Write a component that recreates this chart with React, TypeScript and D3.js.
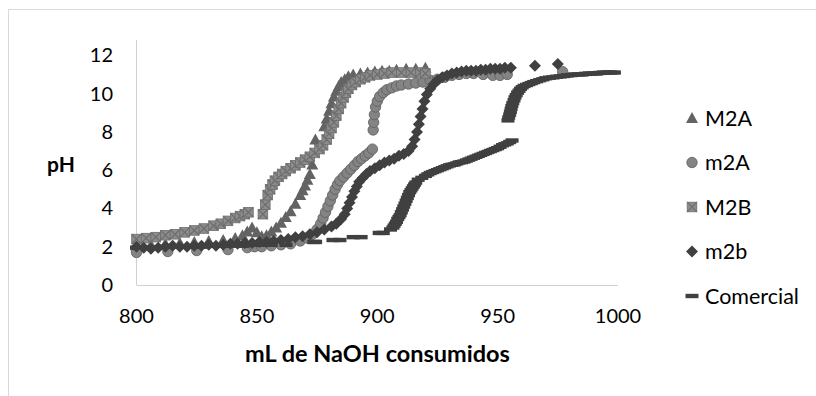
import { useEffect, useRef } from 'react'
import * as d3 from 'd3'

// [mL NaOH, pH]
const m2A_upper: [number, number][] = [
  [800, 2.05], [806, 2.1], [812, 2.15], [818, 2.2], [824, 2.25], [830, 2.3], [836, 2.35], [841, 2.45],
  [844, 2.6], [846, 2.8], [848, 3.0], [850, 2.75], [852, 2.55], [854, 2.6], [856, 2.8], [858, 3.0],
  [860, 3.25], [862, 3.55], [864, 3.85], [866, 4.25], [868, 4.7], [869, 4.95], [870, 5.2], [871, 5.5],
  [872, 5.8], [873, 6.3], [874.3, 7.6], [878, 8.3], [879, 8.7], [880, 9.1], [881, 9.5], [882, 9.85],
  [883, 10.15], [884, 10.4], [885, 10.6], [886.5, 10.75], [888, 10.9], [890, 11.0], [893, 11.05],
  [896, 11.1], [899, 11.15], [902, 11.2], [905, 11.2], [908, 11.25], [912, 11.3], [916, 11.3], [920, 11.35],
]

const m2a_lower: [number, number][] = [
  [800, 1.7], [813, 1.75], [825, 1.8], [838, 1.85], [846, 1.95], [849, 2.0], [852, 2.0], [856, 2.05],
  [860, 2.1], [864, 2.15], [868, 2.3], [871, 2.45], [873, 2.65], [875, 2.9], [876.5, 3.2], [877.5, 3.5],
  [878.5, 3.8], [879.5, 4.1], [880.5, 4.4], [881.5, 4.7], [882.5, 5.0], [883.5, 5.25], [884.5, 5.45],
  [886, 5.65], [887.5, 5.85], [889, 6.05], [890.5, 6.25], [892, 6.45], [893.5, 6.6], [895, 6.75],
  [896.5, 6.9], [898, 7.1], [898.3, 8.1], [898.5, 8.5], [898.8, 8.9], [899.3, 9.3], [900, 9.6],
  [901, 9.85], [902.5, 10.05], [904, 10.2], [906, 10.3], [908, 10.4], [910, 10.45], [913, 10.5],
  [916, 10.55], [919, 10.6], [922, 10.7], [925, 10.75], [928, 10.85], [931, 10.95], [934, 11.0],
  [937, 11.05], [940, 11.05], [944, 11.0], [948, 10.95], [951, 10.95], [954, 11.0], [977, 11.15],
]

const m2B_upper: [number, number][] = [
  [800, 2.4], [804, 2.45], [808, 2.5], [812, 2.6], [816, 2.65], [820, 2.75], [824, 2.85], [828, 2.95],
  [832, 3.1], [835, 3.2], [838, 3.35], [841, 3.5], [843, 3.6], [845, 3.7], [846.5, 3.8], [852.5, 3.7],
  [853.5, 4.2], [854.5, 4.7], [855.5, 5.0], [856.5, 5.25], [857.5, 5.45], [859, 5.65], [860.5, 5.8],
  [862, 5.95], [864, 6.1], [866, 6.25], [868, 6.4], [870, 6.55], [872, 6.7], [874, 6.9], [876, 7.1],
  [877.5, 7.3], [879, 7.6], [880, 7.9], [881, 8.2], [882, 8.5], [883, 8.85], [884, 9.2], [885, 9.5],
  [886, 9.8], [887, 10.05], [888, 10.25], [889.5, 10.45], [891, 10.6], [893, 10.75], [895, 10.85],
  [897, 10.95], [900, 11.0], [903, 11.05], [906, 11.1], [910, 11.1], [914, 11.1], [918, 11.1], [920, 11.05],
]

const m2b_lower: [number, number][] = [
  [800, 2.0], [803, 1.95], [806, 1.9], [809, 1.95], [812, 2.0], [815, 2.05], [818, 2.0], [821, 2.0],
  [824, 2.05], [827, 2.05], [830, 2.1], [833, 2.05], [836, 2.1], [839, 2.15], [842, 2.15], [845, 2.2],
  [848, 2.2], [851, 2.25], [854, 2.25], [857, 2.3], [860, 2.35], [863, 2.4], [866, 2.5], [869, 2.55],
  [872, 2.65], [875, 2.75], [878, 2.9], [881, 3.05], [883, 3.2], [885, 3.45], [886.5, 3.7], [887.5, 4.0],
  [888.5, 4.3], [889.5, 4.6], [890.5, 4.9], [891.5, 5.15], [892.5, 5.4], [894, 5.6], [895.5, 5.8],
  [897, 5.95], [899, 6.1], [901, 6.25], [903, 6.4], [905, 6.5], [907, 6.6], [909, 6.75], [911, 6.85],
  [913, 7.0], [914.5, 7.25], [915.5, 7.6], [916.5, 8.0], [917.3, 8.4], [918, 8.8], [918.8, 9.2],
  [919.6, 9.6], [920.6, 9.95], [922, 10.25], [923.5, 10.5], [925, 10.7], [927, 10.85], [929, 10.95],
  [931, 11.05], [933, 11.1], [935, 11.15], [937, 11.2], [939, 11.2], [941, 11.2], [943, 11.25],
  [945, 11.25], [947, 11.3], [949, 11.3], [951, 11.3], [953, 11.35], [955.5, 11.35], [965.5, 11.45], [975, 11.55],
]

const comercial: [number, number][] = [
  [800, 1.95], [804, 1.95], [808, 1.95], [812, 2.0], [816, 2.0], [820, 2.0], [824, 2.0], [828, 2.0],
  [832, 2.05], [836, 2.05], [840, 2.05], [844, 2.05], [848, 2.1], [852, 2.1], [856, 2.1],
  [862.1, 2.1], [873.6, 2.25], [874.4, 2.25], [881.6, 2.35], [884.5, 2.35], [890, 2.5], [893.3, 2.5],
  [900.8, 2.72], [902.5, 2.72], [905.5, 2.9], [906.5, 3.0], [907, 3.1], [907.5, 3.2], [908, 3.3],
  [908.5, 3.45], [909, 3.55], [909.5, 3.65], [910, 3.8], [910.5, 3.95], [911, 4.1], [911.5, 4.25],
  [912, 4.4], [912.5, 4.55], [913, 4.7], [913.5, 4.85], [914, 4.95], [914.5, 5.05], [915, 5.15],
  [915.5, 5.25], [916, 5.35], [917, 5.5], [918.5, 5.6], [920, 5.7], [921, 5.78], [922, 5.85], [923, 5.9],
  [924, 5.95], [925, 6.0], [926, 6.05], [927, 6.1], [928, 6.15], [929, 6.2], [930, 6.25], [931, 6.28],
  [932, 6.3], [933, 6.35], [934, 6.4], [935, 6.42], [936, 6.45], [937, 6.5], [938, 6.55], [939, 6.6],
  [940, 6.65], [941, 6.7], [942, 6.75], [943, 6.8], [944, 6.85], [945, 6.9], [946, 6.95], [947, 7.0],
  [948, 7.05], [949, 7.1], [950, 7.15], [951, 7.22], [952, 7.3], [953, 7.35], [954, 7.4], [955, 7.47],
  [956, 7.55], [954.3, 8.6], [954.6, 8.75], [955, 8.9], [955.3, 9.05], [955.6, 9.2], [955.9, 9.35],
  [956.3, 9.5], [956.8, 9.65], [957.2, 9.8], [957.7, 9.92], [958.3, 10.05], [958.9, 10.15],
  [959.5, 10.25], [960.2, 10.33], [961, 10.4], [962, 10.45], [963, 10.5], [964, 10.55], [965, 10.6],
  [966.2, 10.65], [967.5, 10.7], [968.8, 10.75], [970, 10.8], [971.5, 10.83], [973, 10.85],
  [974.5, 10.88], [976, 10.9], [977.5, 10.92], [979, 10.95], [980.5, 10.97], [982, 11.0], [983.5, 11.0],
  [985, 11.0], [986.5, 11.03], [988, 11.05], [989.5, 11.05], [991, 11.05], [992.5, 11.08], [994, 11.1],
  [995.5, 11.1], [997, 11.1], [998.5, 11.1],
]

const seriesNames = ['M2A', 'm2A', 'M2B', 'm2b', 'Comercial']
const seriesData = [m2A_upper, m2a_lower, m2B_upper, m2b_lower, comercial]
const xTicks = [800, 850, 900, 950, 1000]
const yTicks = [0, 2, 4, 6, 8, 10, 12]

const FONT = 'Lato, "Open Sans", sans-serif'

// marker drawing, one per series (Excel style)
function drawMarker(sel: d3.Selection<SVGGElement, unknown, null, undefined>, kind: number, cx: number, cy: number) {
  if (kind === 0) {
    sel.append('path')
      .attr('d', `M${cx},${cy - 6} L${cx + 6},${cy + 5} L${cx - 6},${cy + 5} Z`)
      .attr('fill', '#636363')
  } else if (kind === 1) {
    sel.append('circle').attr('cx', cx).attr('cy', cy).attr('r', 5.2)
      .attr('fill', '#848484').attr('stroke', '#5d5d5d').attr('stroke-width', 0.8)
  } else if (kind === 2) {
    sel.append('rect').attr('x', cx - 4.8).attr('y', cy - 4.8).attr('width', 9.6).attr('height', 9.6)
      .attr('fill', '#8c8c8c').attr('stroke', '#6d6d6d').attr('stroke-width', 0.8)
    sel.append('path')
      .attr('d', `M${cx - 4.8},${cy - 4.8} L${cx + 4.8},${cy + 4.8} M${cx + 4.8},${cy - 4.8} L${cx - 4.8},${cy + 4.8}`)
      .attr('stroke', '#6d6d6d').attr('stroke-width', 1.2)
  } else if (kind === 3) {
    sel.append('path')
      .attr('d', `M${cx},${cy - 6} L${cx + 6},${cy} L${cx},${cy + 6} L${cx - 6},${cy} Z`)
      .attr('fill', '#404040')
  } else {
    sel.append('rect').attr('x', cx - 6.5).attr('y', cy - 2.2).attr('width', 13).attr('height', 4.4)
      .attr('fill', '#404040')
  }
}

export default function App() {
  const ref = useRef<SVGSVGElement>(null)

  useEffect(() => {
    if (!ref.current) return
    const svg = d3.select(ref.current)
    svg.selectAll('*').remove()

    const x = d3.scaleLinear().domain([800, 1000]).range([136.5, 618])
    const y = d3.scaleLinear().domain([0, 12.8]).range([285, 40])

    // chart border (right/bottom fall outside the page)
    svg.append('rect').attr('x', 8.5).attr('y', 9.5).attr('width', 900).attr('height', 900)
      .attr('fill', 'white').attr('stroke', '#d9d9d9')

    // axes lines
    svg.append('line').attr('x1', x(800)).attr('x2', x(800)).attr('y1', y(12.8)).attr('y2', y(0))
      .attr('stroke', '#d0d0d0')
    svg.append('line').attr('x1', x(800)).attr('x2', x(1000)).attr('y1', y(0) + 0.5).attr('y2', y(0) + 0.5)
      .attr('stroke', '#d0d0d0')

    yTicks.forEach(t => {
      svg.append('text').attr('x', 113).attr('y', y(t) + 7).attr('text-anchor', 'end')
        .style('font-family', FONT).style('font-size', '20px').style('fill', '#000').text(t)
    })
    xTicks.forEach(t => {
      svg.append('text').attr('x', x(t)).attr('y', 323).attr('text-anchor', 'middle')
        .style('font-family', FONT).style('font-size', '20px').style('fill', '#000').text(t)
    })

    svg.append('text').attr('x', 377.5).attr('y', 362).attr('text-anchor', 'middle')
      .style('font-family', FONT).style('font-size', '23.5px').style('font-weight', 'bold')
      .text('mL de NaOH consumidos')
    svg.append('text').attr('x', 61).attr('y', 172).attr('text-anchor', 'middle')
      .style('font-family', FONT).style('font-size', '21px').style('font-weight', 'bold')
      .text('pH')

    // points
    seriesData.forEach((pts, si) => {
      const g = svg.append('g')
      pts.forEach(([v, p]) => drawMarker(g, si, x(v), y(p)))
    })

    // legend
    const legendY = [118, 162.5, 207, 251.5, 296]
    seriesNames.forEach((name, i) => {
      const g = svg.append('g')
      drawMarker(g, i, 692, legendY[i])
      g.append('text').attr('x', 705).attr('y', legendY[i] + 7.5)
        .style('font-family', FONT).style('font-size', '21.5px').style('fill', '#000').text(name)
    })
  }, [])

  return (
    <svg ref={ref} width={816} height={396}
      style={{ position: 'absolute', left: 0, top: 0, background: 'white' }} />
  )
}
